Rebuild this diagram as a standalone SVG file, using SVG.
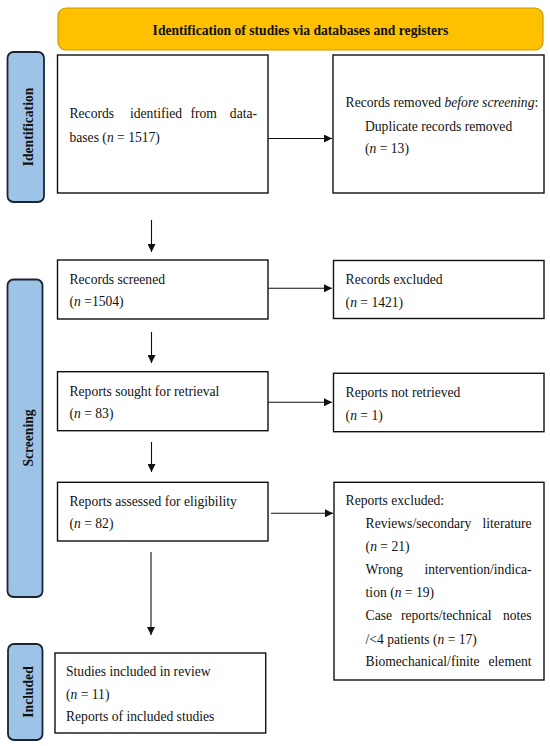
<svg xmlns="http://www.w3.org/2000/svg" width="550" height="746" viewBox="0 0 550 746">
<style>
  text { font-family: "Liberation Serif", "Times New Roman", serif; font-size: 13.6px; fill: #111; }
  .b { font-weight: bold; }
  .i { font-style: italic; }
  .box { fill: #fff; stroke: #111; stroke-width: 1.4; }
  .side { fill: #9DC3E6; stroke: #1c2433; stroke-width: 1.8; }
  .banner { fill: #FFC000; stroke: #C89B00; stroke-width: 1.2; }
  .conn line { stroke: #111; stroke-width: 1.1; marker-end: url(#ah); }
</style>
<defs>
  <marker id="ah" viewBox="0 0 10 10" refX="10" refY="5" markerUnits="userSpaceOnUse" markerWidth="9" markerHeight="8" orient="auto">
    <path d="M0,0 L10,5 L0,10 z" fill="#111"/>
  </marker>
</defs>
<rect width="550" height="746" fill="#fff"/>

<g id="banner">
  <rect class="banner" x="58" y="8" width="485" height="42" rx="8"/>
  <text class="b" x="300.5" y="34.5" text-anchor="middle">Identification of studies via databases and registers</text>
</g>

<g id="side-identification">
  <rect class="side" x="7.5" y="52" width="36.5" height="150" rx="6"/>
  <text class="b" transform="translate(33,127) rotate(-90)" text-anchor="middle">Identification</text>
</g>
<g id="side-screening">
  <rect class="side" x="7.5" y="279.5" width="35" height="317.5" rx="6"/>
  <text class="b" transform="translate(33,438) rotate(-90)" text-anchor="middle">Screening</text>
</g>
<g id="side-included">
  <rect class="side" x="8" y="644" width="34.5" height="96" rx="6"/>
  <text class="b" transform="translate(33,692) rotate(-90)" text-anchor="middle">Included</text>
</g>

<g id="records-identified">
  <rect class="box" x="57.5" y="55" width="210.5" height="138"/>
  <text y="117.5"><tspan x="69.5">Records</tspan><tspan x="130">identified</tspan><tspan x="190.5">from</tspan><tspan x="257" text-anchor="end">data-</tspan></text>
  <text x="69.5" y="141.5">bases (<tspan class="i">n</tspan> = 1517)</text>
</g>

<g id="records-removed">
  <rect class="box" x="333" y="55" width="211" height="138"/>
  <text x="345.6" y="106.5">Records removed <tspan class="i">before screening</tspan>:</text>
  <text x="365" y="130.5">Duplicate records removed</text>
  <text x="365" y="152.5">(<tspan class="i">n</tspan> = 13)</text>
</g>

<g id="records-screened">
  <rect class="box" x="57.5" y="260" width="210.5" height="59"/>
  <text x="69.5" y="283.5">Records screened</text>
  <text x="69.5" y="306">(<tspan class="i">n</tspan> =1504)</text>
</g>

<g id="records-excluded">
  <rect class="box" x="333.5" y="260.5" width="210.5" height="58"/>
  <text x="345.6" y="283.5">Records excluded</text>
  <text x="345.6" y="306.5">(<tspan class="i">n</tspan> = 1421)</text>
</g>

<g id="reports-sought">
  <rect class="box" x="57.5" y="371.7" width="210.5" height="59"/>
  <text x="69.5" y="396">Reports sought for retrieval</text>
  <text x="69.5" y="418">(<tspan class="i">n</tspan> = 83)</text>
</g>

<g id="reports-not-retrieved">
  <rect class="box" x="333.5" y="373.3" width="210.5" height="58.4"/>
  <text x="345.6" y="397">Reports not retrieved</text>
  <text x="345.6" y="419.5">(<tspan class="i">n</tspan> = 1)</text>
</g>

<g id="reports-assessed">
  <rect class="box" x="57.5" y="482.3" width="210.5" height="58.7"/>
  <text x="69.5" y="505.5">Reports assessed for eligibility</text>
  <text x="69.5" y="528">(<tspan class="i">n</tspan> = 82)</text>
</g>

<g id="reports-excluded">
  <rect class="box" x="334" y="482.3" width="210" height="197.7"/>
  <text x="345.6" y="505">Reports excluded:</text>
  <text y="528"><tspan x="365.6">Reviews/secondary</tspan><tspan x="531.6" text-anchor="end">literature</tspan></text>
  <text x="365.6" y="551">(<tspan class="i">n</tspan> = 21)</text>
  <text y="574"><tspan x="365.6">Wrong</tspan><tspan x="531.6" text-anchor="end">intervention/indica-</tspan></text>
  <text x="365.6" y="597">tion (<tspan class="i">n</tspan> = 19)</text>
  <text y="620"><tspan x="365.6">Case</tspan><tspan x="401">reports/technical</tspan><tspan x="531.6" text-anchor="end">notes</tspan></text>
  <text x="365.6" y="643.5">/&lt;4 patients (<tspan class="i">n</tspan> = 17)</text>
  <text y="666"><tspan x="365.6">Biomechanical/finite</tspan><tspan x="531.6" text-anchor="end">element</tspan></text>
</g>

<g id="studies-included">
  <rect class="box" x="55" y="653" width="210.7" height="80"/>
  <text x="66" y="675.5">Studies included in review</text>
  <text x="66" y="699">(<tspan class="i">n</tspan> = 11)</text>
  <text x="66" y="721">Reports of included studies</text>
</g>

<g id="connectors" class="conn">
  <line x1="268" y1="138.5" x2="332" y2="138.5"/>
  <line x1="151.5" y1="220" x2="151.5" y2="252"/>
  <line x1="268" y1="288.3" x2="332" y2="288.3"/>
  <line x1="151.5" y1="332" x2="151.5" y2="363"/>
  <line x1="268" y1="402.3" x2="332" y2="402.3"/>
  <line x1="151.5" y1="442" x2="151.5" y2="472"/>
  <line x1="271" y1="513.3" x2="333" y2="513.3"/>
  <line x1="151" y1="552" x2="151" y2="635"/>
</g>
</svg>
